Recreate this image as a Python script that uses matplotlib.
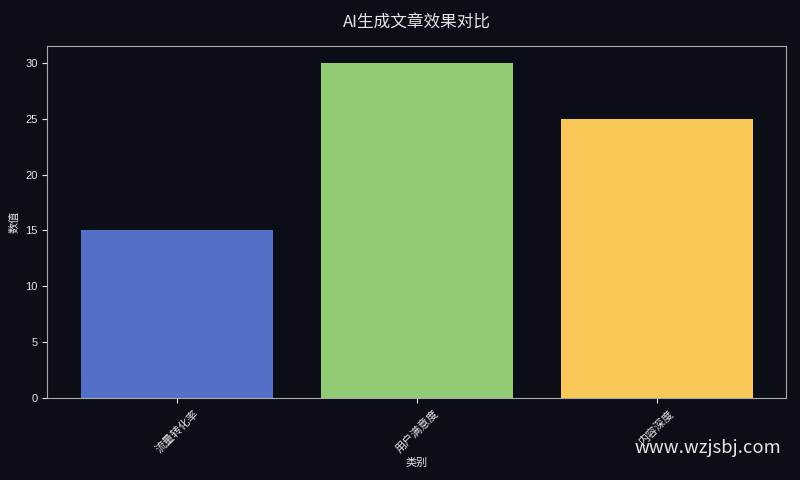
import matplotlib
matplotlib.use('Agg')
import matplotlib.pyplot as plt

plt.rcParams['font.family'] = ['Liberation Sans', 'Noto Sans CJK SC', 'DejaVu Sans']

categories = ['流量转化率', '用户满意度', '内容深度']
values = [15, 30, 25]
colors = ['#5470c6', '#91cc75', '#fac858']

bg = '#0b0e16'
fg = '#e6e6e6'

fig, ax = plt.subplots(figsize=(8, 4.8), dpi=100)
fig.patch.set_facecolor(bg)
ax.set_facecolor(bg)

ax.bar(categories, values, color=colors, width=0.8)

ax.set_title('AI生成文章效果对比', color=fg, fontsize=12, pad=14,
             family=['Noto Sans CJK SC', 'DejaVu Sans'])
ax.set_xlabel('类别', color=fg, fontsize=8, labelpad=2)
ax.set_ylabel('数值', color=fg, fontsize=8)
ax.tick_params(colors=fg, labelsize=8)
plt.setp(ax.get_xticklabels(), rotation=45)
for s in ax.spines.values():
    s.set_color('#aaaaaa')

fig.subplots_adjust(left=0.059, right=0.983, top=0.904, bottom=0.171)
fig.text(0.977, 0.067, 'www.wzjsbj.com', color='white', fontsize=13.3,
         ha='right', va='center', alpha=0.9, family=['Noto Sans CJK SC', 'DejaVu Sans'])

fig.savefig('out.png', facecolor=bg)
